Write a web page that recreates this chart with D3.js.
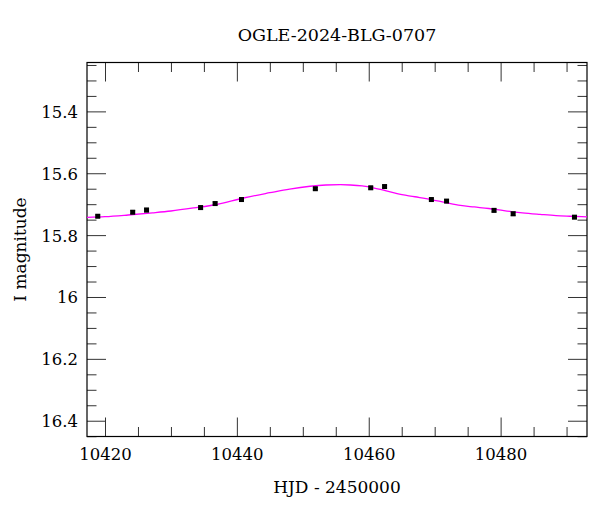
<!DOCTYPE html>
<html>
<head>
<meta charset="utf-8">
<script src="https://cdn.jsdelivr.net/npm/d3@7"></script>
<style>
  html, body { margin: 0; padding: 0; background: #fff; }
  svg text { font-family: "DejaVu Serif", serif; fill: #000; }
</style>
</head>
<body>
<div id="chart"></div>
<script>
// ---- Data ----
const titleText = "OGLE-2024-BLG-0707";
const xLabel = "HJD - 2450000";
const yLabel = "I magnitude";

// observations
const obsHJD = [10418.9, 10424.2, 10426.3, 10434.5, 10436.7, 10440.7, 10451.9, 10460.3, 10462.4, 10469.5, 10471.8, 10479.0, 10481.9, 10491.2];
const obsMag = [15.739, 15.726, 15.719, 15.711, 15.698, 15.685, 15.650, 15.647, 15.643, 15.685, 15.690, 15.720, 15.731, 15.742];
const obsErr = [0.004, 0.005, 0.006, 0.005, 0.005, 0.004, 0.004, 0.004, 0.004, 0.004, 0.005, 0.005, 0.006, 0.004];

// model curve
const modelHJD = [10417.27, 10420.0, 10423.5, 10427.2, 10430.0, 10433.5, 10436.9, 10441.0, 10445.0, 10448.0, 10451.1, 10453.5, 10455.7, 10457.2, 10459.0, 10460.7, 10462.5, 10464.3, 10467.0, 10469.4, 10471.5, 10473.9, 10476.0, 10478.2, 10480.5, 10483.3, 10486.0, 10488.4, 10490.5, 10493.1];
const modelMag = [15.7425, 15.7405, 15.735, 15.728, 15.722, 15.712, 15.701, 15.680, 15.663, 15.651, 15.642, 15.638, 15.637, 15.638, 15.641, 15.647, 15.656, 15.666, 15.676, 15.685, 15.694, 15.704, 15.709, 15.714, 15.721, 15.728, 15.733, 15.737, 15.739, 15.741];

const xMajor = [10420, 10440, 10460, 10480];
const yMajor = [15.4, 15.6, 15.8, 16.0, 16.2, 16.4];
const yTickLabels = ["15.4", "15.6", "15.8", "16", "16.2", "16.4"];

(function () {
// ---- Layout ----
const W = 600, H = 512;
const mLeft = 87, mRight = 587, mTop = 62.5, mBottom = 436.5;
const xDomain = [10417.27, 10493.1];
const yDomain = [15.242, 16.451];

const svg = d3.select("#chart").append("svg")
  .attr("width", W).attr("height", H)
  .attr("viewBox", `0 0 ${W} ${H}`);

const x = d3.scaleLinear().domain(xDomain).range([mLeft, mRight]);
const y = d3.scaleLinear().domain(yDomain).range([mTop, mBottom]);

const xMinor = d3.range(10420, 10494, 5).filter(v => !xMajor.includes(v));
const yMinor = d3.range(0, 25).map(i => +(15.25 + i * 0.05).toFixed(2))
  .filter(v => v <= yDomain[1] && !yMajor.some(m => Math.abs(m - v) < 1e-6));

const majLen = 19, minLen = 9.5;

function addAxis(gen, transform, vals, len, fmt) {
  const g = svg.append("g").attr("transform", transform)
    .call(gen.tickValues(vals).tickSizeInner(-len).tickSizeOuter(0).tickFormat(fmt || (() => "")));
  g.select(".domain").remove();
  g.selectAll(".tick line").attr("stroke", "#333").attr("stroke-width", 1);
  return g;
}
// bottom
const gb = addAxis(d3.axisBottom(x), `translate(0,${mBottom})`, xMajor, majLen, d3.format("d"));
gb.selectAll(".tick text").attr("y", 12).attr("dy", "0.71em")
  .style("font-size", "16.5px").style("font-family", "DejaVu Serif").attr("fill", "#000");
addAxis(d3.axisBottom(x), `translate(0,${mBottom})`, xMinor, minLen);
// top
addAxis(d3.axisTop(x), `translate(0,${mTop})`, xMajor, majLen);
addAxis(d3.axisTop(x), `translate(0,${mTop})`, xMinor, minLen);
// left
const gl = addAxis(d3.axisLeft(y), `translate(${mLeft},0)`, yMajor, majLen, (d, i) => yTickLabels[i]);
gl.selectAll(".tick text").attr("x", -9).attr("dy", "0.36em")
  .style("font-size", "16.5px").style("font-family", "DejaVu Serif").attr("fill", "#000");
addAxis(d3.axisLeft(y), `translate(${mLeft},0)`, yMinor, minLen);
// right
addAxis(d3.axisRight(y), `translate(${mRight},0)`, yMajor, majLen);
addAxis(d3.axisRight(y), `translate(${mRight},0)`, yMinor, minLen);

// frame
svg.append("rect")
  .attr("x", mLeft).attr("y", mTop)
  .attr("width", mRight - mLeft).attr("height", mBottom - mTop)
  .attr("fill", "none").attr("stroke", "#000").attr("stroke-width", 1.2);

// model curve
const model = modelHJD.map((d, i) => [d, modelMag[i]]);
svg.append("path")
  .datum(model)
  .attr("fill", "none")
  .attr("stroke", "#ff00ff")
  .attr("stroke-width", 1.3)
  .attr("d", d3.line().x(d => x(d[0])).y(d => y(d[1])).curve(d3.curveMonotoneX));

// observations
const obs = obsHJD.map((d, i) => ({ t: d, m: obsMag[i], e: obsErr[i] }));
const gp = svg.append("g");
gp.selectAll("line.err").data(obs).join("line")
  .attr("class", "err")
  .attr("x1", d => x(d.t)).attr("x2", d => x(d.t))
  .attr("y1", d => y(d.m - d.e)).attr("y2", d => y(d.m + d.e))
  .attr("stroke", "#000").attr("stroke-width", 1.2);
gp.selectAll("line.capt").data(obs).join("line")
  .attr("class", "capt")
  .attr("x1", d => x(d.t) - 2.5).attr("x2", d => x(d.t) + 2.5)
  .attr("y1", d => y(d.m - d.e)).attr("y2", d => y(d.m - d.e))
  .attr("stroke", "#666").attr("stroke-width", 1);
gp.selectAll("line.capb").data(obs).join("line")
  .attr("class", "capb")
  .attr("x1", d => x(d.t) - 2.5).attr("x2", d => x(d.t) + 2.5)
  .attr("y1", d => y(d.m + d.e)).attr("y2", d => y(d.m + d.e))
  .attr("stroke", "#666").attr("stroke-width", 1);
gp.selectAll("rect.pt").data(obs).join("rect")
  .attr("class", "pt")
  .attr("x", d => x(d.t) - 2.5).attr("y", d => y(d.m) - 2.5)
  .attr("width", 5).attr("height", 5)
  .attr("fill", "#000");

// title
svg.append("text")
  .attr("x", (mLeft + mRight) / 2).attr("y", 41)
  .attr("text-anchor", "middle")
  .style("font-size", "17.5px")
  .text(titleText);

// x label
svg.append("text")
  .attr("x", (mLeft + mRight) / 2).attr("y", 493)
  .attr("text-anchor", "middle")
  .style("font-size", "17px")
  .text(xLabel);

// y label
svg.append("text")
  .attr("transform", `translate(26,${(mTop + mBottom) / 2}) rotate(-90)`)
  .attr("text-anchor", "middle")
  .style("font-size", "17px")
  .text(yLabel);
})();
</script>
</body>
</html>
